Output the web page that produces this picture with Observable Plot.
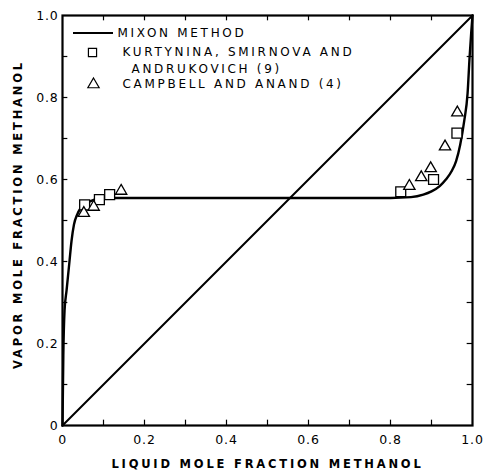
<!DOCTYPE html>
<html><head><meta charset="utf-8">
<script src="https://cdn.jsdelivr.net/npm/d3@7"></script>
<script src="https://cdn.jsdelivr.net/npm/@observablehq/plot@0.6"></script>
<style>body{margin:0;background:#fff}</style>
</head><body><div id="chart"></div>
<script>
// Mixon method curve
const curveX = [0, 0.002, 0.005, 0.01, 0.017, 0.022, 0.028, 0.036, 0.044, 0.055, 0.07, 0.09, 0.12, 0.2, 0.4, 0.6, 0.8, 0.85, 0.88, 0.9, 0.92, 0.935, 0.95, 0.96, 0.97, 0.98, 0.988, 0.993, 0.997, 1.0];
const curveY = [0, 0.17, 0.28, 0.33, 0.40, 0.45, 0.49, 0.515, 0.53, 0.54, 0.548, 0.553, 0.555, 0.555, 0.555, 0.555, 0.555, 0.557, 0.563, 0.571, 0.584, 0.600, 0.622, 0.645, 0.685, 0.744, 0.81, 0.90, 0.96, 1.0];
// Kurtynina, Smirnova and Andrukovich (9) - squares
const kurtX = [0.054, 0.090, 0.115, 0.825, 0.905, 0.962];
const kurtY = [0.538, 0.551, 0.563, 0.570, 0.600, 0.713];
// Campbell and Anand (4) - triangles
const campX = [0.052, 0.076, 0.143, 0.846, 0.875, 0.898, 0.933, 0.963];
const campY = [0.518, 0.533, 0.572, 0.584, 0.605, 0.627, 0.680, 0.763];
// diagonal
const diagX = [0, 1];
const diagY = [0, 1];
// ticks
const majorTicks = [0, 0.2, 0.4, 0.6, 0.8, 1.0];
const allTicks = [0.1, 0.2, 0.3, 0.4, 0.5, 0.6, 0.7, 0.8, 0.9];
const xTitle = "LIQUID MOLE FRACTION METHANOL";
const yTitle = "VAPOR MOLE FRACTION METHANOL";
const legendLabels = ["MIXON METHOD", "KURTYNINA, SMIRNOVA AND", "ANDRUKOVICH (9)", "CAMPBELL AND ANAND (4)"];

const FONT = "DejaVu Sans";
const curve = curveX.map((x, i) => ({x, y: curveY[i]}));
const kurt = kurtX.map((x, i) => ({x, y: kurtY[i]}));
const camp = campX.map((x, i) => ({x, y: campY[i]}));
const diag = diagX.map((x, i) => ({x, y: diagY[i]}));
const fmt = d => d === 0 ? "0" : d.toFixed(1);
const TL = 0.013;

const legendLine = (index, scales, values, dims) => {
  const x0 = dims.marginLeft, y0 = dims.marginTop;
  const g = d3.create("svg:g");
  g.append("line").attr("x1", x0 + 11).attr("x2", x0 + 51).attr("y1", y0 + 18).attr("y2", y0 + 18)
    .attr("stroke", "black").attr("stroke-width", 2.2);
  return g.node();
};

const txt = {fontFamily: FONT, fontSize: 12, textAnchor: "start", lineAnchor: "middle", fill: "black", frameAnchor: "top-left"};

const chart = Plot.plot({
  width: 486, height: 475,
  marginLeft: 62, marginRight: 14, marginTop: 15, marginBottom: 50,
  style: {fontFamily: FONT, background: "white", color: "black"},
  x: {domain: [0, 1], label: null},
  y: {domain: [0, 1], label: null},
  marks: [
    // inward ticks on all four sides
    Plot.ruleX(allTicks, {x: d => d, y1: 0, y2: TL, stroke: "black", strokeWidth: 1.2}),
    Plot.ruleX(allTicks, {x: d => d, y1: 1 - TL, y2: 1, stroke: "black", strokeWidth: 1.2}),
    Plot.ruleY(allTicks, {y: d => d, x1: 0, x2: TL, stroke: "black", strokeWidth: 1.2}),
    Plot.ruleY(allTicks, {y: d => d, x1: 1 - TL, x2: 1, stroke: "black", strokeWidth: 1.2}),
    Plot.axisX(majorTicks, {tickSize: 0, tickPadding: 10, tickFormat: fmt, fontSize: 12.5, fontFamily: FONT, label: null}),
    Plot.axisY(majorTicks, {tickSize: 0, tickPadding: 4, tickFormat: fmt, fontSize: 12.5, fontFamily: FONT, label: null}),
    Plot.text([xTitle], {text: d => d, frameAnchor: "bottom", textAnchor: "middle", dy: 42, fontFamily: FONT, fontSize: 11.5, fontWeight: "bold", fill: "black"}),
    Plot.text([yTitle], {text: d => d, frameAnchor: "left", textAnchor: "middle", lineAnchor: "middle", dx: -44, dy: -6, rotate: -90, fontFamily: FONT, fontSize: 11.5, fontWeight: "bold", fill: "black"}),
    Plot.frame({stroke: "black", strokeWidth: 2.2}),
    Plot.line(diag, {x: "x", y: "y", stroke: "black", strokeWidth: 2}),
    Plot.line(curve, {x: "x", y: "y", stroke: "black", strokeWidth: 2.4, curve: "monotone-x"}),
    Plot.dot(kurt, {x: "x", y: "y", symbol: "square", r: 5.6, stroke: "black", strokeWidth: 1.3, fill: "white"}),
    Plot.dot(camp, {x: "x", y: "y", symbol: "triangle", r: 4.2, stroke: "black", strokeWidth: 1.3, fill: "white"}),
    // legend
    legendLine,
    Plot.text([legendLabels[0]], {...txt, text: d => d, dx: 55, dy: 18}),
    Plot.dot([legendLabels[1]], {frameAnchor: "top-left", dx: 30, dy: 37, symbol: "square", r: 4.6, stroke: "black", strokeWidth: 1.2}),
    Plot.text([legendLabels[1]], {...txt, text: d => d, dx: 60, dy: 37}),
    Plot.text([legendLabels[2]], {...txt, text: d => d, dx: 69, dy: 54}),
    Plot.dot([legendLabels[3]], {frameAnchor: "top-left", dx: 31, dy: 69, symbol: "triangle", r: 4.2, stroke: "black", strokeWidth: 1.2}),
    Plot.text([legendLabels[3]], {...txt, text: d => d, dx: 60, dy: 69})
  ]
});
// letter spacing to imitate the wide technical lettering
const texts = d3.select(chart).selectAll("text");
texts.filter(function () { return this.textContent === xTitle || this.textContent === yTitle; })
  .style("letter-spacing", "2.8px");
texts.filter(function () { return legendLabels.includes(this.textContent); })
  .style("letter-spacing", "2.7px");
texts.filter(function () { return majorTicks.map(fmt).includes(this.textContent); })
  .style("letter-spacing", "0.8px");
document.getElementById("chart").appendChild(chart);
</script>
</body></html>
